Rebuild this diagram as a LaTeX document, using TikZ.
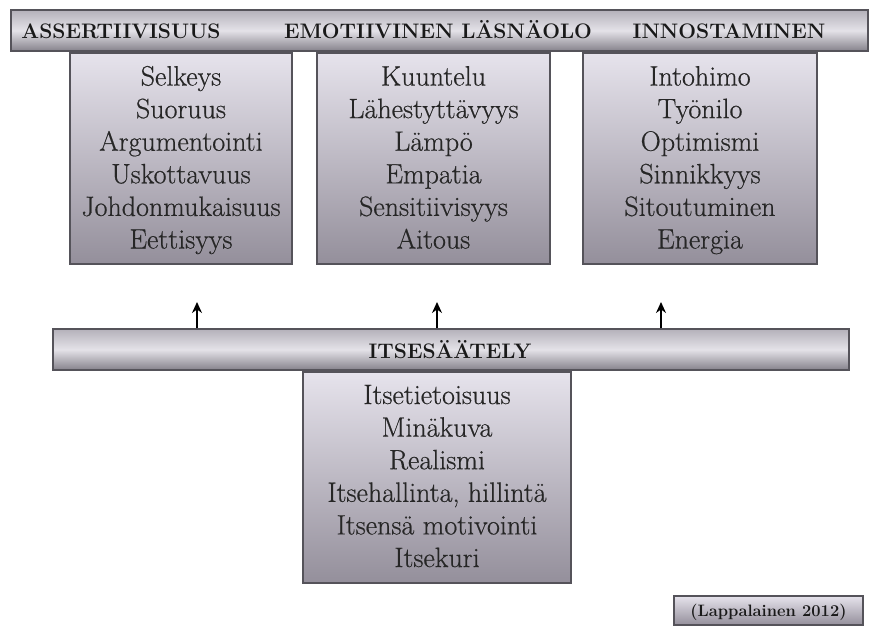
\documentclass[tikz,border=0pt]{standalone}
\usepackage{fontspec}
\newfontfamily\itemfont{Latin Modern Roman}[FakeBold=0.5]
\usetikzlibrary{arrows.meta}
\definecolor{edgegray}{HTML}{55535A}
\definecolor{boxtop}{HTML}{E6E3EC}
\definecolor{boxbot}{HTML}{948F9B}
\definecolor{bartop}{HTML}{B4B1BA}
\definecolor{barmid}{HTML}{E4E2E8}
\definecolor{barbot}{HTML}{85828B}
\tikzset{
  panel/.style={draw=edgegray, line width=1.3pt, top color=boxtop, bottom color=boxbot, inner sep=0pt},
  bar/.style={draw=edgegray, line width=1.3pt, top color=bartop, bottom color=barbot, middle color=barmid, inner sep=0pt},
  head/.style={font=\fontsize{21}{24}\selectfont\bfseries, text=black!90, inner sep=0pt, anchor=base},
  items/.style={font=\itemfont\fontsize{28}{32.6}\selectfont, text=black!85, align=center, inner sep=0pt, anchor=north},
  arr/.style={-{Stealth[length=11pt,width=10pt]}, line width=1.6pt, black}
}
\begin{document}
\begin{tikzpicture}[x=1pt,y=-1pt]
\useasboundingbox (0,0) rectangle (869,626);
% top bar
\node[bar, minimum width=857pt, minimum height=41pt] (top) at (439.5,30.5) {};
\node[head] (h1) at (121,39) {ASSERTIIVISUUS};
\node[head] (h2) at (438,39) {EMOTIIVINEN LÄSNÄOLO};
\node[head] (h3) at (729,39) {INNOSTAMINEN};
% boxes
\node[panel, minimum width=222pt, minimum height=211pt] (b1) at (181,158.5) {};
\node[items] (t1) at (181,62.5) {\strut Selkeys\\Suoruus\\Argumentointi\\Uskottavuus\\Johdonmukaisuus\\Eettisyys};
\node[panel, minimum width=233pt, minimum height=211pt] (b2) at (433.5,158.5) {};
\node[items] (t2) at (433.5,62.5) {\strut Kuuntelu\\Lähestyttävyys\\Lämpö\\Empatia\\Sensitiivisyys\\Aitous};
\node[panel, minimum width=234pt, minimum height=211pt] (b3) at (700,158.5) {};
\node[items] (t3) at (700,62.5) {\strut Intohimo\\Työnilo\\Optimismi\\Sinnikkyys\\Sitoutuminen\\Energia};
% bottom
\node[bar, minimum width=796pt, minimum height=41pt] (itse) at (451,349.5) {};
\node[head] (ih) at (450,358) {ITSESÄÄTELY};
\node[panel, minimum width=268pt, minimum height=211pt] (b4) at (437,477.5) {};
\node[items] (t4) at (437,381) {\strut Itsetietoisuus\\Minäkuva\\Realismi\\Itsehallinta, hillintä\\Itsensä motivointi\\Itsekuri};
% arrows
\coordinate (a1) at (197,302);
\coordinate (a2) at (437,302);
\coordinate (a3) at (661,302);
\draw[arr] (a1 |- itse.north) -- (a1);
\draw[arr] (a2 |- itse.north) -- (a2);
\draw[arr] (a3 |- itse.north) -- (a3);
% citation
\node[panel, minimum width=189pt, minimum height=29pt] (cite) at (768.5,610.5) {};
\node[head, font=\fontsize{16.5}{20}\selectfont\bfseries] (citet) at (768.5,616) {(Lappalainen 2012)};
\end{tikzpicture}
\end{document}
